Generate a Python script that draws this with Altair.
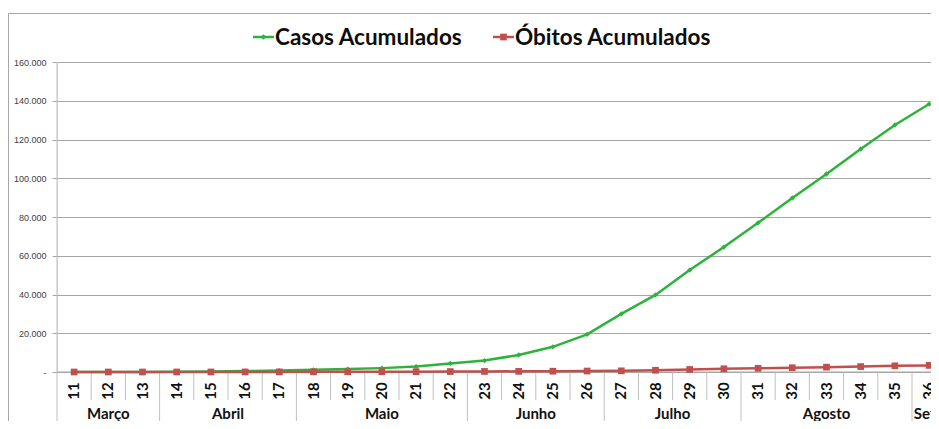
import altair as alt
import pandas as pd

# ---- data ----
weeks = list(range(11, 37))
casos = [0, 5, 30, 120, 280, 480, 720, 1100, 1500, 2000, 2800, 4400, 5900, 8800,
         13000, 19400, 30000, 39800, 52600, 64500, 77000, 89800, 102200, 115100,
         127500, 138300]
obitos = [0, 0, 2, 6, 15, 30, 50, 80, 110, 140, 180, 230, 280, 340, 410, 500,
          600, 900, 1300, 1650, 1900, 2200, 2500, 2800, 3200, 3400]
series_names = ["Casos Acumulados", "Óbitos Acumulados"]
series_colors = ["#2db23c", "#c0504d"]
months = ["Março", "Abril", "Maio", "Junho", "Julho", "Agosto", "Setembro"]
month_start = [11, 14, 18, 23, 27, 31, 36]
month_end = [13, 17, 22, 26, 30, 35, 37]
y_ticks = [0, 20000, 40000, 60000, 80000, 100000, 120000, 140000, 160000]

FONT = "Lato"
H = 310
W = 874
STEP = 34.2
xscale = alt.Scale(domain=[10.5, 10.5 + W / STEP], nice=False, zero=False)

df = pd.DataFrame({
    "semana": weeks * 2,
    "valor": casos + obitos,
    "serie": [series_names[0]] * len(weeks) + [series_names[1]] * len(weeks),
})

X = alt.X("semana:Q", scale=xscale, axis=None)
Y = alt.Y("valor:Q", scale=alt.Scale(domain=[0, 160000], nice=False),
          axis=alt.Axis(values=y_ticks, title=None, domain=False,
                        grid=True, gridColor="#a6a6a6", gridWidth=1,
                        ticks=True, tickSize=5, tickColor="#a6a6a6",
                        labelFont="Liberation Sans", labelFontSize=9,
                        labelColor="#404040", labelPadding=6,
                        labelExpr="datum.value == 0 ? '-\u00a0\u00a0\u00a0' : format(datum.value / 1000, 'd') + '.000'"))

layers = []

# y axis with grid
layers.append(alt.Chart(df).mark_line(opacity=0).encode(x=X, y=Y))

# category separators
month_bounds = [s - 0.5 for s in month_start[1:]]
short_sep = [w + 0.5 for w in weeks if (w + 0.5) not in month_bounds]
sep_short = pd.DataFrame({"pos": short_sep})
sep_long = pd.DataFrame({"pos": month_bounds})
layers.append(alt.Chart(sep_short).mark_rule(color="#bfbfbf", strokeWidth=1).encode(
    x=alt.X("pos:Q", scale=xscale, axis=None), y=alt.value(H), y2=alt.value(H + 28)))
layers.append(alt.Chart(sep_long).mark_rule(color="#bfbfbf", strokeWidth=1).encode(
    x=alt.X("pos:Q", scale=xscale, axis=None), y=alt.value(H), y2=alt.value(H + 60)))
# vertical axis line
layers.append(alt.Chart(pd.DataFrame({"pos": [10.5]})).mark_rule(color="#bfbfbf", strokeWidth=1).encode(
    x=alt.X("pos:Q", scale=xscale, axis=None), y=alt.value(0), y2=alt.value(H + 60)))
# baseline
layers.append(alt.Chart(pd.DataFrame({"a": [0]})).mark_rule(color="#a6a6a6", strokeWidth=1).encode(
    x=alt.value(0), x2=alt.value(W), y=alt.value(H)))

# week labels
layers.append(alt.Chart(pd.DataFrame({"semana": weeks})).mark_text(
    angle=270, font=FONT, fontWeight="bold", fontSize=15, color="#111111",
    align="center", baseline="middle").encode(
    x=X, y=alt.value(H + 19), text=alt.Text("semana:N")))

# month labels
mdf = pd.DataFrame({"mes": months,
                    "c": [(s + e) / 2 for s, e in zip(month_start, month_end)]})
layers.append(alt.Chart(mdf).mark_text(
    font=FONT, fontWeight="bold", fontSize=15, color="#111111",
    align="center", baseline="middle").encode(
    x=alt.X("c:Q", scale=xscale, axis=None), y=alt.value(H + 42), text="mes:N"))

# data lines and markers
color = alt.Color("serie:N", scale=alt.Scale(domain=series_names, range=series_colors), legend=None)
for name, shape, size in [(series_names[0], "diamond", 28), (series_names[1], "square", 45)]:
    sub = df[df["serie"] == name]
    layers.append(alt.Chart(sub).mark_line(strokeWidth=2.5).encode(x=X, y=Y, color=color))
    layers.append(alt.Chart(sub).mark_point(shape=shape, size=size, filled=True, opacity=1).encode(
        x=X, y=Y, color=color))

# manual legend at the top
leg_x = [196, 436]
for name, col, shape, size, lx in zip(series_names, series_colors, ["diamond", "square"], [28, 45], leg_x):
    one = pd.DataFrame({"serie": [name]})
    layers.append(alt.Chart(one).mark_rule(color=col, strokeWidth=2.5).encode(
        x=alt.value(lx), x2=alt.value(lx + 21), y=alt.value(-25)))
    layers.append(alt.Chart(one).mark_point(shape=shape, size=size, filled=True, color=col, opacity=1).encode(
        x=alt.value(lx + 10.5), y=alt.value(-25)))
    layers.append(alt.Chart(one).mark_text(font=FONT, fontWeight="bold", fontSize=22.5, color="#0d0d0d",
                                           align="left", baseline="middle").encode(
        x=alt.value(lx + 22), y=alt.value(-24), text="serie:N"))

# chart frame (top and left border)
layers.append(alt.Chart(pd.DataFrame({"a": [0]})).mark_rule(color="#a6a6a6", strokeWidth=1).encode(
    x=alt.value(-48.5), x2=alt.value(W + 10), y=alt.value(-48.5)))
layers.append(alt.Chart(pd.DataFrame({"a": [0]})).mark_rule(color="#a6a6a6", strokeWidth=1).encode(
    x=alt.value(-48.5), y=alt.value(-48.5), y2=alt.value(H + 60)))

chart = alt.layer(*layers).properties(
    width=W, height=H,
    autosize=alt.AutoSizeParams(type="none"),
    padding={"left": 49, "top": 54, "right": 0, "bottom": 49},
).configure_view(stroke=None).configure(background="white")

chart.save("out.html", embed_options={"renderer": "svg", "actions": False})
